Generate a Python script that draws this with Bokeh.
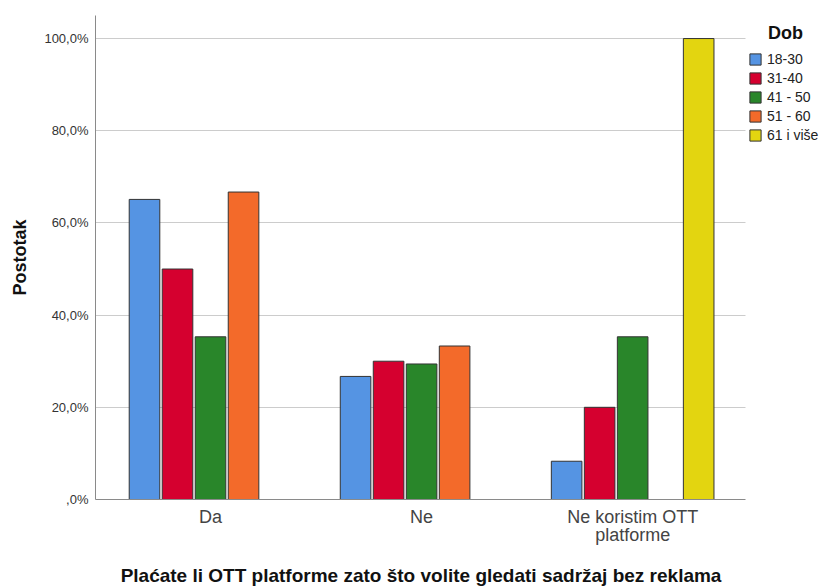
from bokeh.plotting import figure
from bokeh.models import ColumnDataSource, Range1d, FixedTicker, Legend, LegendItem
from bokeh.transform import dodge
from bokeh.embed import file_html
from bokeh.resources import INLINE

categories = ["Da", "Ne", "Ne koristim OTT\nplatforme"]
age_groups = ["18-30", "31-40", "41 - 50", "51 - 60", "61 i više"]
legend_title = "Dob"
x_title = "Plaćate li OTT platforme zato što volite gledati sadržaj bez reklama"
v_18_30 = [65.1, 26.7, 8.3]
v_31_40 = [50.0, 30.0, 20.0]
v_41_50 = [35.3, 29.4, 35.3]
v_51_60 = [66.7, 33.3, 0.0]
v_61_plus = [0.0, 0.0, 100.0]
colors = ["#5594E3", "#D5002F", "#29862A", "#F36A2A", "#E3D510"]
y_ticks = [0, 20, 40, 60, 80, 100]
y_tick_labels = [",0%", "20,0%", "40,0%", "60,0%", "80,0%", "100,0%"]

FONT = "Liberation Sans"

series = [v_18_30, v_31_40, v_41_50, v_51_60, v_61_plus]
cat_pos = [i + 0.5 for i in range(len(categories))]
data = {"x": cat_pos}
for i, s in enumerate(series):
    data["s%d" % i] = s
source = ColumnDataSource(data)

# numeric axis on category slots; extra room on the right holds the legend
x_lo, x_hi, x_frame_hi = -0.045, 3.035, 3.39

p = figure(
    x_range=Range1d(x_lo, x_frame_hi),
    y_range=Range1d(0, 105),
    width=824, height=588,
    min_border_left=95, min_border_right=4, min_border_top=15, min_border_bottom=86,
    output_backend="svg", toolbar_location=None,
)
p.outline_line_color = None
p.background_fill_color = "white"
p.border_fill_color = "white"

slot = 0.1564
items = []
for i in range(5):
    r = p.vbar(
        x=dodge("x", (i - 2) * slot),
        top="s%d" % i, width=0.145, bottom=0, source=source,
        fill_color=colors[i], line_color="#333333", line_width=1,
    )
    items.append(LegendItem(label=age_groups[i], renderers=[r]))

dummy = p.vbar(x=[], top=[], width=0.1, fill_alpha=0, line_alpha=0)

# grid
p.xgrid.grid_line_color = None
p.ygrid.grid_line_color = "#cccccc"
p.ygrid.grid_line_width = 1
p.ygrid.ticker = FixedTicker(ticks=y_ticks[1:])
p.ygrid.cross_bounds = (x_lo, x_hi)

# y axis
p.yaxis.ticker = FixedTicker(ticks=y_ticks)
p.yaxis.major_label_overrides = {t: l for t, l in zip(y_ticks, y_tick_labels)}
p.yaxis.major_tick_line_color = None
p.yaxis.minor_tick_line_color = None
p.yaxis.major_tick_out = 0
p.yaxis.major_tick_in = 0
p.yaxis.minor_tick_out = 0
p.yaxis.axis_line_color = "#8a8a8a"
p.yaxis.major_label_text_font = FONT
p.yaxis.major_label_text_font_size = "13px"
p.yaxis.major_label_text_color = "#333333"
p.yaxis.major_label_standoff = 7
p.yaxis.axis_label = "Postotak"
p.yaxis.axis_label_text_font = FONT
p.yaxis.axis_label_text_font_size = "18px"
p.yaxis.axis_label_text_font_style = "bold"
p.yaxis.axis_label_text_color = "#111111"
p.yaxis.axis_label_standoff = 11

# x axis
p.xaxis.bounds = (x_lo, x_hi)
p.xaxis.ticker = FixedTicker(ticks=cat_pos)
p.xaxis.major_label_overrides = {pos: c for pos, c in zip(cat_pos, categories)}
p.xaxis.major_tick_line_color = None
p.xaxis.minor_tick_line_color = None
p.xaxis.major_tick_out = 0
p.xaxis.major_tick_in = 0
p.xaxis.minor_tick_out = 0
p.xaxis.axis_line_color = "#8a8a8a"
p.xaxis.major_label_text_font = FONT
p.xaxis.major_label_text_font_size = "18px"
p.xaxis.major_label_text_color = "#444444"
p.xaxis.major_label_text_line_height = 0.9
p.xaxis.major_label_standoff = 7
# trailing no-break spaces shift the centred title left, over the bars (the frame also holds the legend)
p.xaxis.axis_label = x_title + "\u00a0" * 14
p.xaxis.axis_label_text_font = FONT
p.xaxis.axis_label_text_font_size = "19px"
p.xaxis.axis_label_text_font_style = "bold"
p.xaxis.axis_label_text_color = "#111111"
p.xaxis.axis_label_standoff = 17

legend = Legend(
    items=items, location=(653, 356),
    glyph_width=14, glyph_height=14, label_height=14, spacing=3,
    label_standoff=5, padding=0, margin=0,
    border_line_color=None, background_fill_alpha=0,
    label_text_font=FONT, label_text_font_size="14px", label_text_color="#222222",
)
p.add_layout(legend, "center")

title_legend = Legend(
    items=[LegendItem(label=legend_title, renderers=[dummy])], location=(653, 455),
    glyph_width=14, glyph_height=14, label_standoff=6, padding=0, margin=0,
    border_line_color=None, background_fill_alpha=0,
    label_text_font=FONT, label_text_font_size="18px", label_text_font_style="bold",
    label_text_color="#111111",
)
p.add_layout(title_legend, "center")

open("out.html", "w").write(file_html(p, INLINE))
